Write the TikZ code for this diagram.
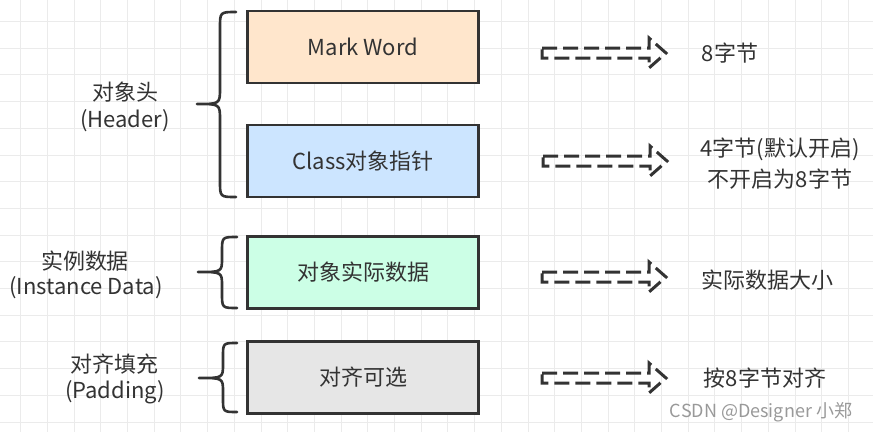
\documentclass[tikz,border=0pt]{standalone}
\usepackage{fontspec}
\setmainfont{Noto Sans CJK SC}
\definecolor{ink}{HTML}{333333}
\definecolor{txt}{HTML}{333333}
\definecolor{gridc}{HTML}{EBEBEB}
\definecolor{peach}{HTML}{FFE6CC}
\definecolor{lblue}{HTML}{CCE5FF}
\definecolor{lgreen}{HTML}{CCFFE6}
\definecolor{lgray}{HTML}{E6E6E6}
\begin{document}
\begin{tikzpicture}[x=1pt,y=-1pt,
  box/.style={draw=ink, line width=2.6pt, minimum width=231pt, minimum height=72pt, inner sep=0pt, text=txt, font=\fontsize{22}{26}\selectfont},
  lbl/.style={text=txt, font=\fontsize{22}{26}\selectfont, inner sep=0pt},
  bracel/.style={draw=ink, line width=2.6pt, line cap=round, line join=round},
  arrowline/.style={draw=ink, line width=3pt, dash pattern=on 15pt off 6pt, line join=miter},
  pics/hollowarrow/.style={code={
    \draw[arrowline] (-62,-5) -- (45,-5) -- (45,-15) -- (62,0) -- (45,15) -- (45,5) -- (-62,5) -- cycle;
  }}
]
\useasboundingbox (0,0) rectangle (873,432);
\fill[white] (0,0) rectangle (873,432);
% grid
\foreach \i in {0,...,31} \draw[gridc, line width=1pt] ({20.7+26.7*\i},0) -- ({20.7+26.7*\i},432);
\foreach \j in {0,...,15} \draw[gridc, line width=1pt] (0,{21.5+26.7*\j}) -- (873,{21.5+26.7*\j});

% boxes
\node[box, fill=peach] (mw) at (363,47) {Mark Word};
\node[box, fill=lblue] (cp) at (363,161) {Class对象指针};
\node[box, fill=lgreen] (id) at (363,272.5) {对象实际数据};
\node[box, fill=lgray] (pd) at (363,377.5) {对齐可选};

% left labels
\node[lbl] (h1) at (125,92) {对象头};
\node[lbl] (h2) at (125,121) {(Header)};
\node[lbl] (i1) at (85,261) {实例数据};
\node[lbl] (i2) at (86,288) {(Instance Data)};
\node[lbl] (p1) at (114,364) {对齐填充};
\node[lbl] (p2) at (115,392) {(Padding)};

% braces
\draw[bracel] (236,12) .. controls (220,12) .. (220,28) -- (220,88) .. controls (220,104) .. (197,104) .. controls (220,104) .. (220,120) -- (220,181) .. controls (220,197) .. (236,197);
\draw[bracel] (237,237) .. controls (222,237) .. (222,252) -- (222,258) .. controls (222,272) .. (198,272) .. controls (222,272) .. (222,286) -- (222,293) .. controls (222,308) .. (237,308);
\draw[bracel] (237,343) .. controls (223,343) .. (223,357) -- (223,364) .. controls (223,378) .. (199,378) .. controls (223,378) .. (223,392) -- (223,398) .. controls (223,412) .. (237,412);

% arrows
\coordinate (a1) at (604,53);
\coordinate (a2) at (605,161);
\coordinate (a3) at (604,277);
\coordinate (a4) at (604,378);
\pic at (a1) {hollowarrow};
\pic at (a2) {hollowarrow};
\pic at (a3) {hollowarrow};
\pic at (a4) {hollowarrow};

% right labels
\node[lbl] (r1) at (730,53) {8字节};
\node[lbl] (r2a) at (780,149) {4字节(默认开启)};
\node[lbl] (r2b) at (780,179) {不开启为8字节};
\node[lbl] (r3) at (767,280) {实际数据大小};
\node[lbl] (r4) at (765,378) {按8字节对齐};

% watermark
\node[text=black!40, font=\fontsize{18}{21}\selectfont, inner sep=0pt] (wm) at (761,412) {CSDN @Designer 小郑};
\end{tikzpicture}
\end{document}
